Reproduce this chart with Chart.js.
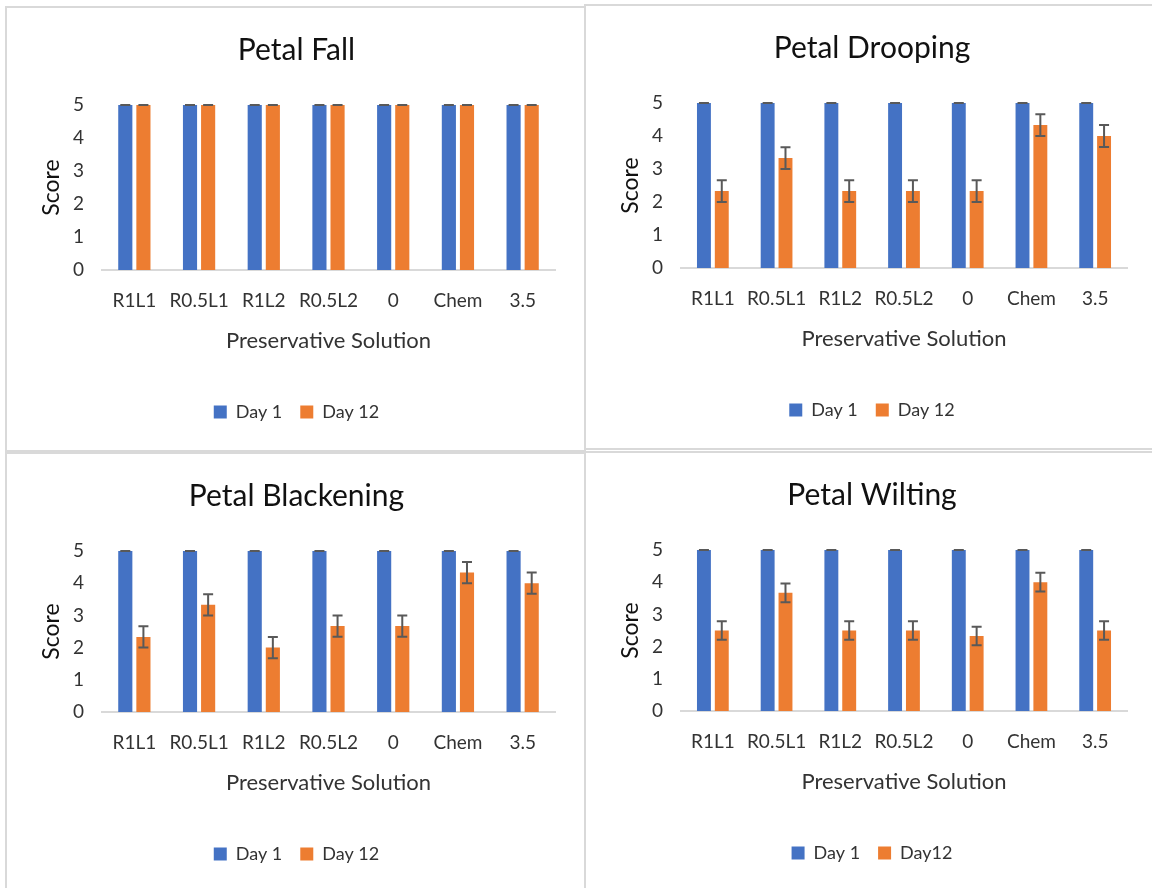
<!DOCTYPE html>
<html>
<head>
<meta charset="utf-8">
<script src="https://cdn.jsdelivr.net/npm/chart.js@4"></script>
<style>
  html, body { margin: 0; padding: 0; background: #fff; }
  body { width: 1152px; height: 888px; position: relative; overflow: hidden; }
  .panel { position: absolute; border: 2px solid #d9d9d9; background: #fff; box-sizing: border-box; }
  .panel canvas { display: block; }
</style>
</head>
<body>
<div class="panel" style="left:5px;top:6px;width:581px;height:446px"><canvas id="c1" width="577" height="442"></canvas></div>
<div class="panel" style="left:584px;top:4px;width:570px;height:446px"><canvas id="c2" width="566" height="442"></canvas></div>
<div class="panel" style="left:5px;top:452px;width:581px;height:442px"><canvas id="c3" width="577" height="438"></canvas></div>
<div class="panel" style="left:584px;top:451px;width:570px;height:442px"><canvas id="c4" width="566" height="438"></canvas></div>
<script>
// Treatments on the x axis
const solutions = ['R1L1', 'R0.5L1', 'R1L2', 'R0.5L2', '0', 'Chem', '3.5']

// Mean scores, day 1 is always 5
const day1 = [5, 5, 5, 5, 5, 5, 5]
const day1Err = [0, 0, 0, 0, 0, 0, 0]

const fallDay12 = [5, 5, 5, 5, 5, 5, 5]
const fallErr = [0, 0, 0, 0, 0, 0, 0]

const droopDay12 = [2.33, 3.33, 2.33, 2.33, 2.33, 4.33, 4.0]
const droopErr = [0.33, 0.33, 0.33, 0.33, 0.33, 0.33, 0.33]

const blackDay12 = [2.33, 3.33, 2.0, 2.67, 2.67, 4.33, 4.0]
const blackErr = [0.33, 0.33, 0.33, 0.33, 0.33, 0.33, 0.33]

const wiltDay12 = [2.5, 3.67, 2.5, 2.5, 2.33, 4.0, 2.5]
const wiltErr = [0.29, 0.29, 0.29, 0.29, 0.29, 0.29, 0.29]

const yTicks = [0, 1, 2, 3, 4, 5]

const BLUE = '#4472C4'
const ORANGE = '#ED7D31'
const FONT = "Lato, 'Open Sans', sans-serif"

// draws +/- error whiskers on top of each bar, using the dataset's errors array
const errorBars = {
  id: 'errorBars',
  afterDatasetsDraw(chart) {
    const ctx = chart.ctx
    const yScale = chart.scales.y
    ctx.save()
    ctx.strokeStyle = '#595959'
    ctx.lineWidth = 2
    chart.data.datasets.forEach((ds, i) => {
      if (!ds.errors) return
      const meta = chart.getDatasetMeta(i)
      meta.data.forEach((bar, j) => {
        const v = ds.data[j]
        const e = ds.errors[j]
        const top = yScale.getPixelForValue(v + e)
        const bot = yScale.getPixelForValue(v - e)
        const x = bar.x
        const cap = 5
        ctx.beginPath()
        ctx.moveTo(x, top); ctx.lineTo(x, bot)
        ctx.moveTo(x - cap, top); ctx.lineTo(x + cap, top)
        ctx.moveTo(x - cap, bot); ctx.lineTo(x + cap, bot)
        ctx.stroke()
      })
    })
    ctx.restore()
  }
}

function makeChart(id, title, d12, d12Err, d12Label, rightPad) {
  const ctx = document.getElementById(id).getContext('2d')
  return new Chart(ctx, {
    type: 'bar',
    data: {
      labels: solutions,
      datasets: [
        { label: 'Day 1', data: day1, errors: day1Err, backgroundColor: BLUE,
          categoryPercentage: 0.56, barPercentage: 0.78 },
        { label: d12Label, data: d12, errors: d12Err, backgroundColor: ORANGE,
          categoryPercentage: 0.56, barPercentage: 0.78 }
      ]
    },
    plugins: [errorBars],
    options: {
      responsive: false,
      animation: false,
      layout: { padding: { left: 31, right: rightPad, top: 0, bottom: 19 } },
      plugins: {
        title: {
          display: true,
          text: title,
          color: '#111',
          font: { family: FONT, size: 30, weight: 'normal' },
          padding: { top: 24, bottom: 37 }
        },
        legend: {
          position: 'bottom',
          labels: {
            color: '#333',
            font: { family: FONT, size: 18 },
            boxWidth: 13,
            boxHeight: 13,
            padding: 18
          }
        },
        tooltip: { enabled: false }
      },
      scales: {
        x: {
          afterFit: (axis) => { axis.height = 115 },
          grid: { display: false, drawTicks: false },
          border: { display: true, color: '#d9d9d9', width: 2 },
          ticks: { color: '#333', font: { family: FONT, size: 19 }, padding: 19, maxRotation: 0 },
          title: {
            display: true,
            text: 'Preservative Solution',
            color: '#333',
            font: { family: FONT, size: 22 },
            padding: { top: 0, bottom: 31 }
          }
        },
        y: {
          min: 0,
          max: 5,
          afterFit: (axis) => { axis.width = 64 },
          afterBuildTicks: (axis) => { axis.ticks = yTicks.map(v => ({ value: v })) },
          grid: { display: false, drawTicks: false },
          border: { display: false },
          ticks: { color: '#333', font: { family: FONT, size: 19 }, padding: 18 },
          title: {
            display: true,
            text: 'Score',
            color: '#111',
            font: { family: FONT, size: 23 },
            padding: { top: 0, bottom: 0 }
          }
        }
      }
    }
  })
}

makeChart('c1', 'Petal Fall', fallDay12, fallErr, 'Day 12', 29)
makeChart('c2', 'Petal Drooping', droopDay12, droopErr, 'Day 12', 25)
makeChart('c3', 'Petal Blackening', blackDay12, blackErr, 'Day 12', 29)
makeChart('c4', 'Petal Wilting', wiltDay12, wiltErr, 'Day12', 25)
</script>
</body>
</html>
